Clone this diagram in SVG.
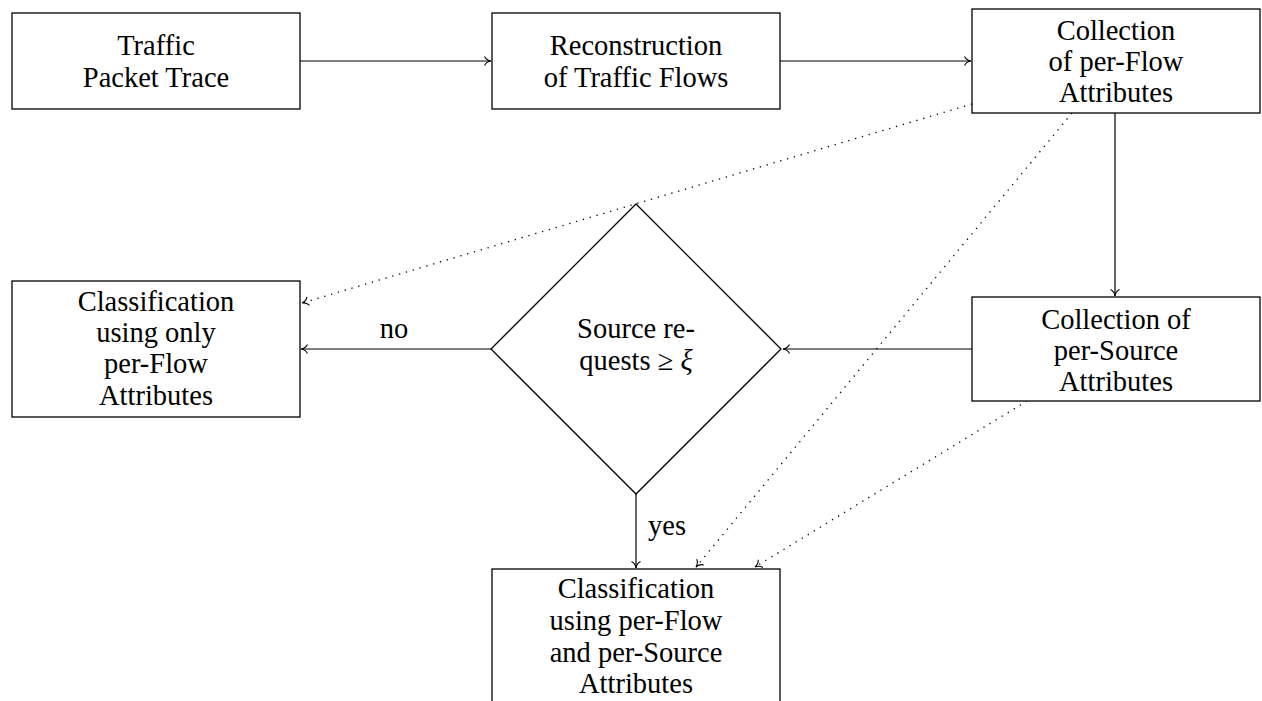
<svg xmlns="http://www.w3.org/2000/svg" width="1262" height="701" viewBox="0 0 1262 701">
<style>
.box{fill:#fff;stroke:#000;stroke-width:1.3}
.t{font-family:"Liberation Serif","Times New Roman",serif;font-size:28.5px;fill:#000;text-anchor:middle}
.c{fill:none;stroke:#000;stroke-width:1.2}
.d{fill:none;stroke:#000;stroke-width:1.3;stroke-dasharray:1.3 5.8}
</style>
<defs>
<marker id="arr" viewBox="-9 -6 11 12" markerWidth="11" markerHeight="12" refX="0" refY="0" orient="auto" markerUnits="userSpaceOnUse">
<path d="M-6.5,-4.5 C-5,-1.6 -2,-0.3 0,0 C-2,0.3 -5,1.6 -6.5,4.5" fill="none" stroke="#000" stroke-width="1.1"/>
</marker>
</defs>
<rect width="1262" height="701" fill="#fff"/>
<g id="connectors">
<path class="c" d="M300,61 H491" marker-end="url(#arr)"/>
<path class="c" d="M780,61 H971" marker-end="url(#arr)"/>
<path class="c" d="M1115,113 V296" marker-end="url(#arr)"/>
<path class="c" d="M972,349 H783" marker-end="url(#arr)"/>
<path class="c" d="M491,349 H301" marker-end="url(#arr)"/>
<path class="c" d="M636,494 V568" marker-end="url(#arr)"/>
<path class="d" d="M972,104 L302,303" marker-end="url(#arr)"/>
<path class="d" d="M1072,113 L696,567" marker-end="url(#arr)"/>
<path class="d" d="M1027,401 L755,567" marker-end="url(#arr)"/>
<text class="t" x="394" y="338">no</text>
<text class="t" x="667" y="535">yes</text>
</g>
<g id="n1">
<rect class="box" x="12" y="13" width="288" height="96"/>
<text class="t" x="156" y="55">Traffic</text>
<text class="t" x="156" y="87">Packet Trace</text>
</g>
<g id="n2">
<rect class="box" x="492" y="13" width="288" height="96"/>
<text class="t" x="636" y="55">Reconstruction</text>
<text class="t" x="636" y="87">of Traffic Flows</text>
</g>
<g id="n3">
<rect class="box" x="972" y="9" width="288" height="104"/>
<text class="t" x="1116" y="40">Collection</text>
<text class="t" x="1116" y="71">of per-Flow</text>
<text class="t" x="1116" y="102">Attributes</text>
</g>
<g id="n4">
<rect class="box" x="972" y="297" width="288" height="104"/>
<text class="t" x="1116" y="329">Collection of</text>
<text class="t" x="1116" y="360">per-Source</text>
<text class="t" x="1116" y="391">Attributes</text>
</g>
<g id="n5">
<rect class="box" x="12" y="281" width="288" height="136"/>
<text class="t" x="156" y="311">Classification</text>
<text class="t" x="156" y="342">using only</text>
<text class="t" x="156" y="373">per-Flow</text>
<text class="t" x="156" y="405">Attributes</text>
</g>
<g id="n6">
<polygon class="box" points="636,204 781,349 636,494 491,349"/>
<text class="t" x="636" y="338">Source re-</text>
<text class="t" x="636" y="370">quests ≥ <tspan font-style="italic">ξ</tspan></text>
</g>
<g id="n7">
<rect class="box" x="492" y="569" width="288" height="136"/>
<text class="t" x="636" y="598">Classification</text>
<text class="t" x="636" y="630">using per-Flow</text>
<text class="t" x="636" y="662">and per-Source</text>
<text class="t" x="636" y="693">Attributes</text>
</g>
</svg>
